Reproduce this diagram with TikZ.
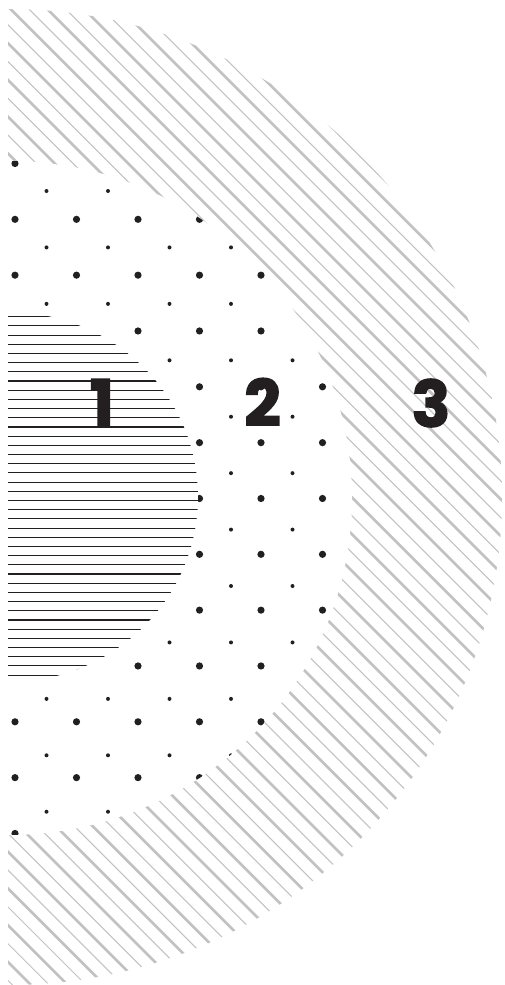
\documentclass[tikz,border=0pt]{standalone}
\usepackage{fontspec}
\newfontfamily\numfont{Poppins}[BoldFeatures={FakeBold=2.2}]
\definecolor{ink}{HTML}{231F20}
\definecolor{hatch}{HTML}{C2C2C2}
\begin{document}
\begin{tikzpicture}[x=1pt,y=-1pt,
  thickhatch/.style={draw=hatch,line width=2.8pt},
  thinhatch/.style={draw=hatch,line width=0.9pt},
  rulestyle/.style={draw=ink,line width=1.1pt},
  numlabel/.style={font=\numfont\bfseries\fontsize{64}{64}\selectfont, text=ink, inner sep=0pt}]
\fill[white] (0,0) rectangle (504,985);
\useasboundingbox (0,0) rectangle (504,985);
\begin{scope}
  \clip (8,0) rectangle (504,985);
  % region 3: diagonal hatching
  \begin{scope}
    \clip (8,497) ellipse [x radius=494pt, y radius=488pt];
    \foreach \k in {-28,...,14} {
      \pgfmathsetmacro\c{1.5+36.75*\k}
      \draw[thickhatch] (\c,0) -- ++(985,985);
      \draw[thinhatch] (\c+18.375,0) -- ++(985,985);
    }
  \end{scope}
  % region 2: dots
  \fill[white] (8,498) ellipse [x radius=344pt, y radius=337pt];
  \begin{scope}
    \clip (8,498) ellipse [x radius=344pt, y radius=337pt];
    \foreach \i in {0,...,5} {
      \foreach \j in {0,...,12} {
        \fill[ink] (15+61.5*\i, 163.5+55.83*\j) circle [radius=3.6pt];
      }
    }
    \foreach \i in {0,...,4} {
      \foreach \j in {0,...,11} {
        \fill[ink] (46.5+61.5*\i, 191+56.43*\j) circle [radius=2pt];
      }
    }
  \end{scope}
  % region 1: horizontal rules
  \fill[white] (8,497) ellipse [x radius=190pt, y radius=185pt];
  \begin{scope}
    \clip (8,497) ellipse [x radius=190pt, y radius=185pt];
    \foreach \k in {0,...,39} {
      \draw[rulestyle] (8,316.7+9.19*\k) -- ++(200,0);
    }
  \end{scope}
\end{scope}
\node[numlabel] (n1) at (102,402.5) {1};
\node[numlabel] (n2) at (262.5,402) {2};
\node[numlabel] (n3) at (431,403) {3};
\end{tikzpicture}
\end{document}
